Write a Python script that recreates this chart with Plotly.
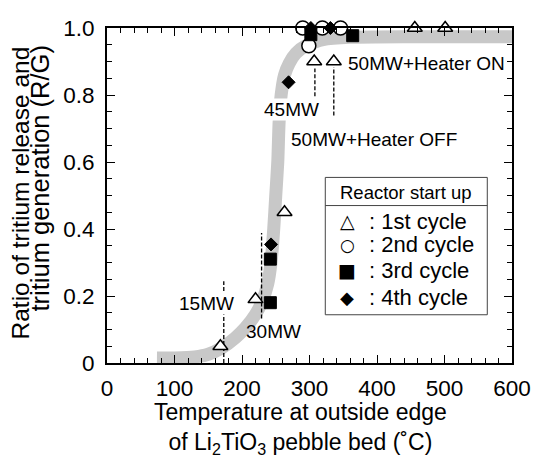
import plotly.graph_objects as go

# ---- data ----
curve_x = [74, 100, 130, 150, 170, 190, 205, 220, 230, 238, 243, 247, 250, 253, 255, 258, 263, 270, 280, 295, 320, 360, 450, 600]
curve_y = [0.015, 0.015, 0.018, 0.026, 0.045, 0.075, 0.105, 0.145, 0.185, 0.235, 0.30, 0.40, 0.50, 0.60, 0.72, 0.80, 0.86, 0.895, 0.925, 0.948, 0.965, 0.972, 0.974, 0.974]

cycle1_x = [168, 220, 263, 307, 336, 456, 501]
cycle1_y = [0.05, 0.19, 0.45, 0.90, 0.90, 1.0, 1.0]
cycle2_x = [290, 319, 346, 299]
cycle2_y = [1.0, 1.0, 1.0, 0.947]
cycle3_x = [242, 242, 302, 364]
cycle3_y = [0.18, 0.31, 0.98, 0.977]
cycle4_x = [243, 269, 302, 331]
cycle4_y = [0.354, 0.838, 1.0, 1.0]

marker_x = [173, 229, 308, 336]
marker_y0 = [0.0, 0.133, 0.796, 0.739]
marker_y1 = [0.244, 0.388, 0.879, 0.883]

label_text = ["15MW", "30MW", "45MW", "50MW+Heater OFF", "50MW+Heater ON"]
label_x = [148, 246, 273, 395, 473]
label_y = [0.177, 0.095, 0.758, 0.667, 0.893]

legend_title = "Reactor start up"
legend_symbols = ["△", "○", "■", "◆"]
legend_names = [": 1st cycle", ": 2nd cycle", ": 3rd cycle", ": 4th cycle"]

x_ticks = [0, 100, 200, 300, 400, 500, 600]
y_ticks = [0, 0.2, 0.4, 0.6, 0.8, 1.0]
y_ticklabels = ["0", "0.2", "0.4", "0.6", "0.8", "1.0"]

FONT = "Liberation Sans, Arial, Helvetica, sans-serif"
SYMFONT = "DejaVu Sans, sans-serif"

fig = go.Figure()

fig.add_trace(go.Scatter(x=curve_x, y=curve_y, mode="lines",
                         line=dict(color="#c8c8c8", width=13, shape="spline", smoothing=0.6),
                         showlegend=False, hoverinfo="skip"))

for xv, a, b in zip(marker_x, marker_y0, marker_y1):
    fig.add_trace(go.Scatter(x=[xv, xv], y=[a, b], mode="lines",
                             line=dict(color="black", width=1.3, dash="4px,2px"),
                             showlegend=False, hoverinfo="skip"))

fig.add_trace(go.Scatter(x=cycle1_x, y=cycle1_y, mode="markers", name=legend_names[0],
                         marker=dict(symbol="triangle-up", size=13, color="white",
                                     line=dict(color="black", width=1.5)),
                         cliponaxis=False, showlegend=False))
fig.add_trace(go.Scatter(x=cycle2_x, y=cycle2_y, mode="markers", name=legend_names[1],
                         marker=dict(symbol="circle", size=14, color="white",
                                     line=dict(color="black", width=1.5)),
                         cliponaxis=False, showlegend=False))
fig.add_trace(go.Scatter(x=cycle3_x, y=cycle3_y, mode="markers", name=legend_names[2],
                         marker=dict(symbol="square", size=12, color="black",
                                     line=dict(color="black", width=1)),
                         cliponaxis=False, showlegend=False))
fig.add_trace(go.Scatter(x=cycle4_x, y=cycle4_y, mode="markers", name=legend_names[3],
                         marker=dict(symbol="diamond", size=10, color="black",
                                     line=dict(color="black", width=1)),
                         cliponaxis=False, showlegend=False))

for t, xv, yv in zip(label_text, label_x, label_y):
    fig.add_annotation(x=xv, y=yv, text=t, showarrow=False,
                       font=dict(family=FONT, size=19, color="black"),
                       bgcolor="white" if t in ("15MW", "45MW") else "rgba(0,0,0,0)",
                       borderpad=0)

# ---- legend box (drawn by hand, in paper units) ----
LX0, LX1, LY0, LY1, LSEP = 0.539, 0.939, 0.144, 0.554, 0.470
shapes = [
    dict(type="rect", xref="paper", yref="paper", x0=LX0, x1=LX1, y0=LY0, y1=LY1,
         line=dict(color="#444", width=1), fillcolor="white", layer="above"),
    dict(type="line", xref="paper", yref="paper", x0=LX0, x1=LX1, y0=LSEP, y1=LSEP,
         line=dict(color="#444", width=1), layer="above"),
]
fig.add_annotation(xref="paper", yref="paper", x=(LX0 + LX1) / 2, y=0.508,
                   text=legend_title, showarrow=False,
                   font=dict(family=FONT, size=18.5, color="black"),
                   xanchor="center", yanchor="middle")
entry_y = [0.4236, 0.3524, 0.2775, 0.196]
sym_sizes = [19, 17, 19, 18]
for sym, nm, ey, ss in zip(legend_symbols, legend_names, entry_y, sym_sizes):
    fig.add_annotation(xref="paper", yref="paper", x=0.593, y=ey, text=sym,
                       showarrow=False, font=dict(family=SYMFONT, size=ss, color="black"),
                       xanchor="center", yanchor="middle")
    fig.add_annotation(xref="paper", yref="paper", x=0.641, y=ey, text=nm,
                       showarrow=False, font=dict(family=FONT, size=22, color="black"),
                       xanchor="left", yanchor="middle")

# axis titles
fig.add_annotation(xref="paper", yref="paper", x=0.478, y=-0.195,
                   text="Temperature at outside edge<br>of Li<sub>2</sub>TiO<sub>3</sub> pebble bed (˚C)",
                   showarrow=False, font=dict(family=FONT, size=23, color="black"),
                   xanchor="center", yanchor="middle")
fig.add_annotation(xref="paper", yref="paper", x=-0.214, y=0.507,
                   text="Ratio of tritium release and", textangle=-90,
                   showarrow=False, font=dict(family=FONT, size=24.5, color="black"),
                   xanchor="center", yanchor="middle")
fig.add_annotation(xref="paper", yref="paper", x=-0.166, y=0.550,
                   text="tritium generation (R/G)", textangle=-90,
                   showarrow=False, font=dict(family=FONT, size=25.5, color="black"),
                   xanchor="center", yanchor="middle")

axis_common = dict(showline=True, linecolor="black", linewidth=2, mirror="allticks",
                   ticks="inside", ticklen=8, tickwidth=1.2, tickcolor="black",
                   showgrid=False, zeroline=False, ticklabeloverflow="allow",
                   tickfont=dict(family=FONT, size=22.5, color="black"))

fig.update_xaxes(range=[0, 600], tickvals=x_ticks,
                 minor=dict(dtick=20, ticks="inside", ticklen=5, tickcolor="black", tickwidth=1.2),
                 ticklabelstandoff=4, **axis_common)
fig.update_yaxes(range=[0, 1.0], tickvals=y_ticks, ticktext=y_ticklabels,
                 minor=dict(dtick=0.05, ticks="inside", ticklen=5, tickcolor="black", tickwidth=1.2),
                 ticklabelstandoff=6, **axis_common)

# page has an 8px body margin, so the figure is 8px smaller and the margins 8px tighter
fig.update_layout(
    width=531, height=452,
    margin=dict(l=99, r=22, t=8, b=97),
    plot_bgcolor="white", paper_bgcolor="white",
    font=dict(family=FONT, color="black"),
    showlegend=False,
    shapes=shapes,
)

fig.write_html("out.html")
